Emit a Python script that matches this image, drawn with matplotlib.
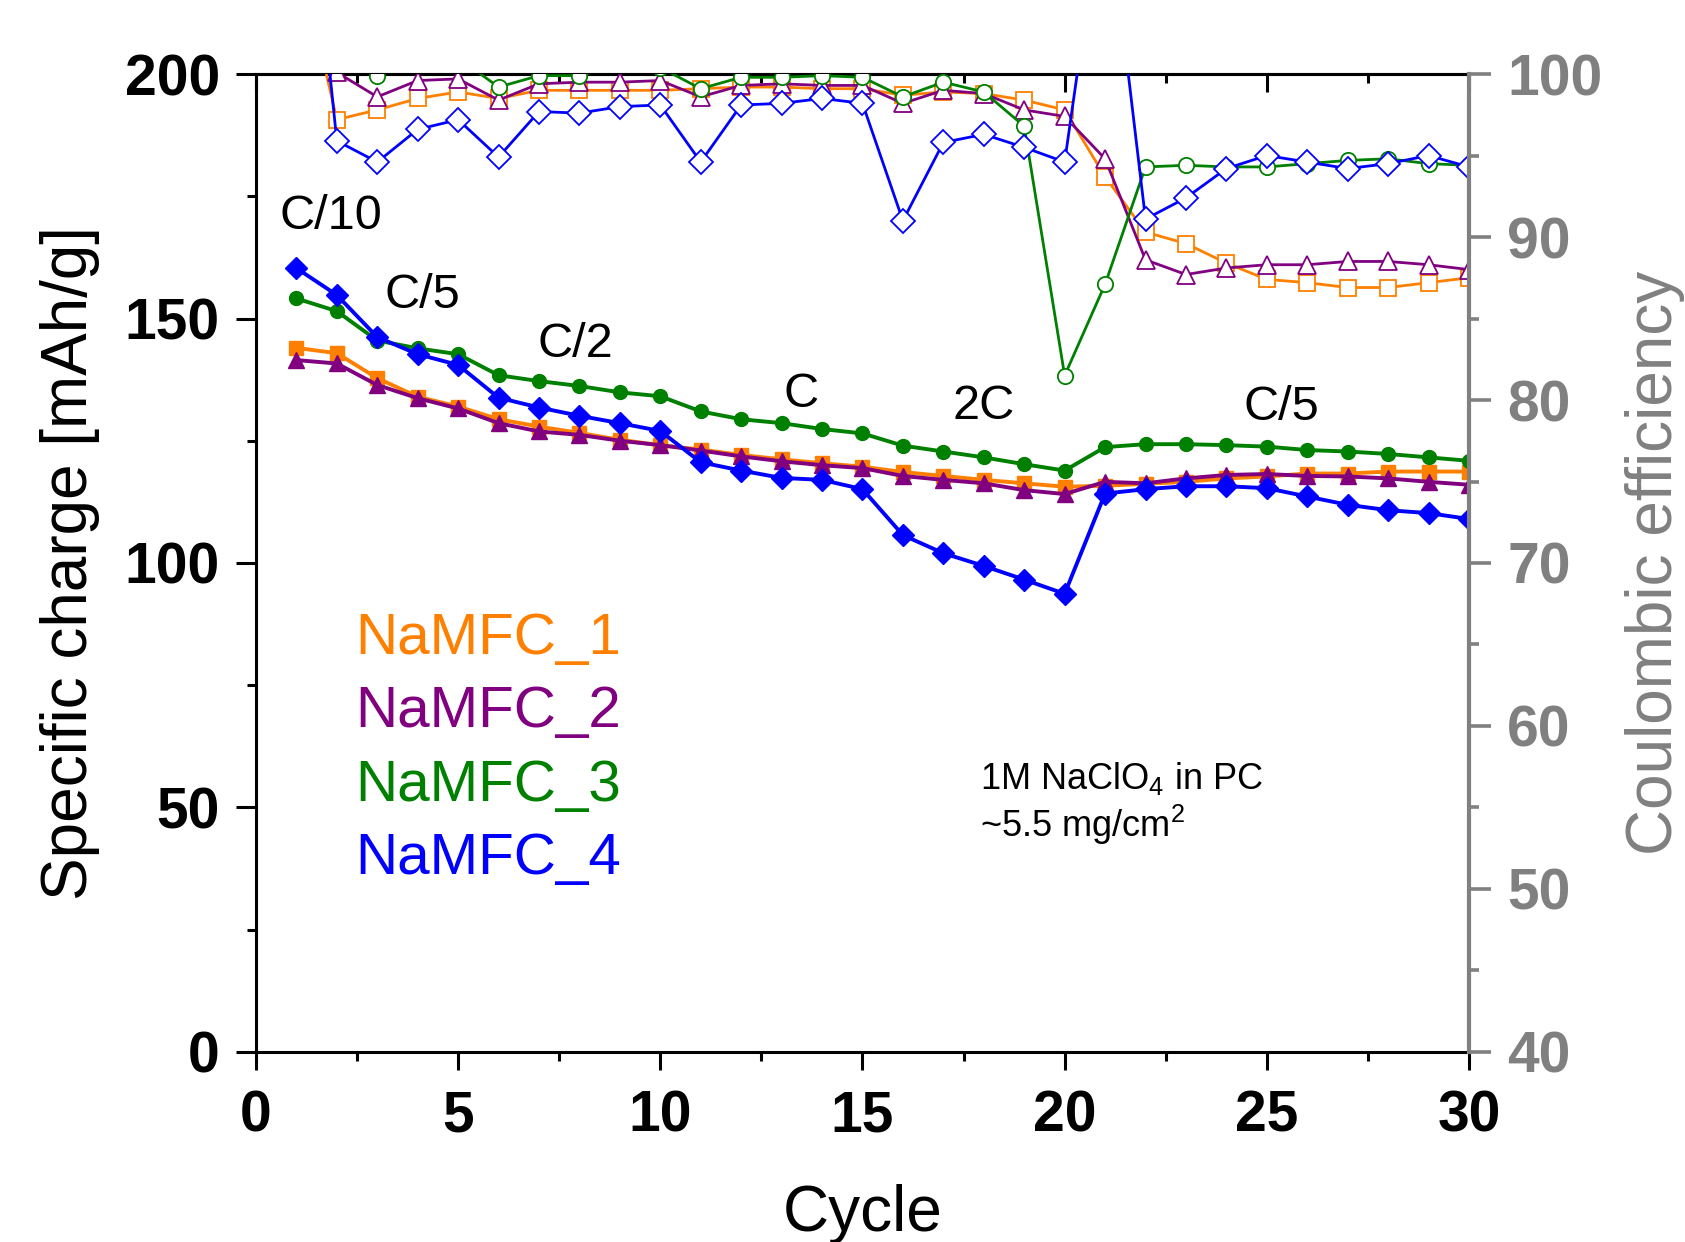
import matplotlib
matplotlib.use("Agg")
import matplotlib.pyplot as plt
from matplotlib.ticker import MultipleLocator

plt.rcParams['font.family'] = ['Liberation Sans', 'DejaVu Sans']
plt.rcParams['mathtext.fontset'] = 'custom'
plt.rcParams['mathtext.rm'] = 'Liberation Sans'

# cycle number
cycles = list(range(1, 31))

# specific charge [mAh/g]
charge_1 = [144.0, 142.9, 137.8, 134.0, 132.0, 129.4, 127.9, 126.6, 125.2, 124.1,
            123.2, 122.1, 121.2, 120.4, 119.7, 118.6, 117.8, 117.0, 116.3, 115.6,
            115.8, 116.2, 116.6, 117.3, 117.7, 118.3, 118.3, 118.7, 118.7, 118.7]
charge_2 = [141.5, 140.8, 136.4, 133.7, 131.6, 128.6, 126.9, 126.2, 125.0, 124.1,
            123.0, 121.8, 120.8, 120.0, 119.4, 117.8, 117.0, 116.3, 114.9, 114.1,
            116.6, 116.3, 117.3, 118.0, 118.2, 117.8, 117.7, 117.3, 116.6, 116.0]
charge_3 = [154.1, 151.5, 145.5, 143.9, 142.7, 138.4, 137.2, 136.2, 134.9, 134.1,
            131.0, 129.4, 128.6, 127.4, 126.5, 124.0, 122.8, 121.6, 120.2, 118.9,
            123.7, 124.3, 124.3, 124.1, 123.8, 123.1, 122.8, 122.3, 121.6, 120.9]
charge_4 = [160.3, 154.8, 146.2, 142.7, 140.5, 133.8, 131.8, 130.1, 128.6, 127.0,
            120.6, 118.9, 117.4, 117.0, 115.1, 105.7, 102.0, 99.4, 96.6, 93.7,
            114.2, 115.1, 115.7, 115.7, 115.3, 113.6, 111.9, 110.8, 110.2, 109.0]

# coulombic efficiency [%]
ce_1 = [108.0, 97.2, 97.8, 98.5, 98.9, 98.5, 99.0, 99.0, 99.0, 99.0,
        99.1, 99.2, 99.2, 99.1, 99.1, 98.7, 98.9, 98.8, 98.4, 97.8,
        93.7, 90.3, 89.6, 88.4, 87.4, 87.2, 86.9, 86.9, 87.2, 87.5]
ce_2 = [103.0, 100.1, 98.6, 99.6, 99.7, 98.4, 99.4, 99.5, 99.5, 99.6,
        98.6, 99.3, 99.4, 99.3, 99.3, 98.2, 99.0, 98.8, 97.8, 97.4,
        94.8, 88.6, 87.7, 88.1, 88.3, 88.3, 88.5, 88.5, 88.3, 88.0]
ce_3 = [104.0, 101.0, 99.9, 101.0, 101.0, 99.2, 99.9, 99.9, 100.6, 100.4,
        99.1, 99.8, 99.8, 99.9, 99.8, 98.6, 99.5, 98.9, 96.8, 81.5,
        87.1, 94.3, 94.4, 94.3, 94.3, 94.5, 94.7, 94.8, 94.5, 94.4]
ce_4 = [120.0, 95.9, 94.6, 96.6, 97.2, 94.9, 97.7, 97.6, 98.0, 98.1,
        94.6, 98.1, 98.2, 98.5, 98.2, 91.0, 95.8, 96.3, 95.5, 94.6,
        112.0, 91.1, 92.4, 94.2, 95.0, 94.6, 94.2, 94.5, 95.0, 94.3]

names = ['NaMFC_1', 'NaMFC_2', 'NaMFC_3', 'NaMFC_4']
colors = ['#FF8000', '#800080', '#008000', '#0000FF']
markers = ['s', '^', 'o', 'D']
msizes = [10, 12, 10, 11.5]

rate_labels = ['C/10', 'C/5', 'C/2', 'C', '2C', 'C/5']
rate_x = [1.85, 4.11, 7.89, 13.47, 18.0, 25.35]
rate_y = [170.8, 154.8, 144.6, 134.4, 132.1, 131.7]

gray = '#808080'

fig = plt.figure(figsize=(16.85, 12.42), dpi=100)
ax = fig.add_axes([0.1519, 0.1530, 0.7199, 0.7874])
ax2 = ax.twinx()

charges = [charge_1, charge_2, charge_3, charge_4]
effs = [ce_1, ce_2, ce_3, ce_4]

for q, c, m, ms in zip(charges, colors, markers, msizes):
    ax.plot(cycles, q, color=c, marker=m, ms=ms, lw=2.8, mec=c, mfc=c)

for e, c, m, ms in zip(effs, colors, markers, msizes):
    ax2.plot(cycles, e, color=c, marker=m, ms=ms + 1, lw=2.0,
             mec=c, mfc='white', mew=1.3)

# left axis
ax.set_xlim(0, 30)
ax.set_ylim(0, 200)
ax.xaxis.set_major_locator(MultipleLocator(5))
ax.xaxis.set_minor_locator(MultipleLocator(2.5))
ax.yaxis.set_major_locator(MultipleLocator(50))
ax.yaxis.set_minor_locator(MultipleLocator(25))
ax.tick_params(axis='both', which='both', direction='out', width=2.2,
               labelsize=41, top=False, right=False)
ax.tick_params(axis='x', which='major', length=13, pad=14)
ax.tick_params(axis='y', which='major', length=14.5, pad=11.5)
ax.tick_params(which='minor', length=6.5)
for lab in ax.get_xticklabels() + ax.get_yticklabels():
    lab.set_fontweight('bold')
for s in ['left', 'bottom', 'top']:
    ax.spines[s].set_linewidth(2.2)
ax.spines['right'].set_visible(False)

top = ax.secondary_xaxis('top')
top.xaxis.set_major_locator(MultipleLocator(5))
top.xaxis.set_minor_locator(MultipleLocator(2.5))
top.tick_params(which='both', direction='in', width=2.2, labeltop=False)
top.tick_params(which='major', length=13)
top.tick_params(which='minor', length=6.5)
top.spines['top'].set_linewidth(2.2)

ax.set_xlabel('Cycle', fontsize=46)
ax.xaxis.set_label_coords(0.5, -0.135)
ax.set_ylabel('Specific charge [mAh/g]', fontsize=46)
ax.yaxis.set_label_coords(-0.1286, 0.5)

# right axis
ax2.set_ylim(40, 100)
ax2.yaxis.set_major_locator(MultipleLocator(10))
ax2.yaxis.set_minor_locator(MultipleLocator(5))
ax2.tick_params(axis='y', which='both', direction='out', width=2.6,
                color=gray, labelcolor=gray, labelsize=41)
ax2.tick_params(axis='y', which='major', length=16, pad=11.5)
ax2.tick_params(axis='y', which='minor', length=7)
for lab in ax2.get_yticklabels():
    lab.set_fontweight('bold')
for s in ['left', 'bottom', 'top']:
    ax2.spines[s].set_visible(False)
ax2.spines['right'].set_color(gray)
ax2.spines['right'].set_linewidth(3)
ax2.set_ylabel('Coulombic efficiency', fontsize=46, color=gray)
ax2.yaxis.set_label_coords(1.1286, 0.5)

# rate labels
for t, x, y in zip(rate_labels, rate_x, rate_y):
    ax.text(x, y, t, fontsize=35, ha='center', va='center')

# coloured legend text
leg_y = [84.5, 69.6, 54.4, 39.5]
for n, c, y in zip(names, colors, leg_y):
    ax.text(2.45, y, n, color=c, fontsize=42, ha='left', va='center')

ax.text(17.9, 56.0, '1M NaClO$_4$ in PC', fontsize=26, ha='left', va='center')
ax.text(17.9, 46.5, '~5.5 mg/cm$^2$', fontsize=26, ha='left', va='center')

fig.savefig('out.png', dpi=100)
